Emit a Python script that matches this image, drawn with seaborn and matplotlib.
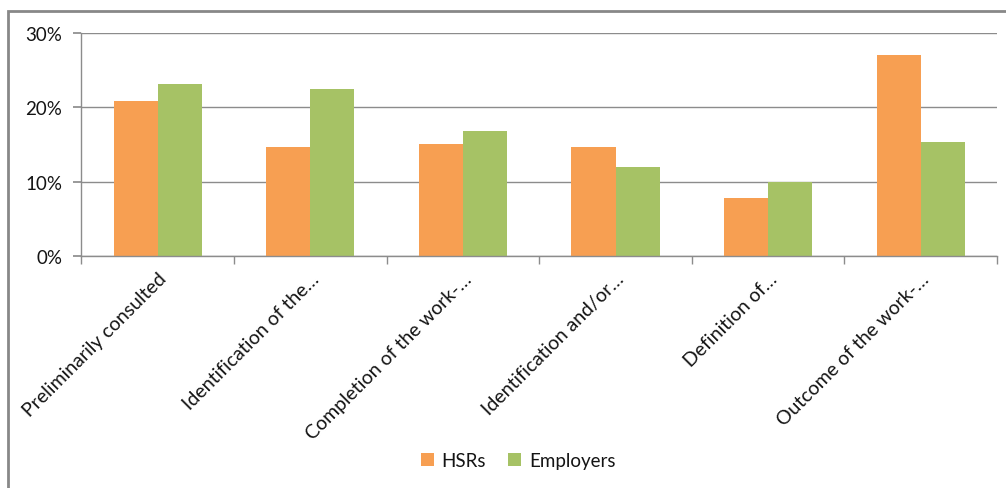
import matplotlib
matplotlib.use("Agg")
import matplotlib.pyplot as plt
import seaborn as sns
import pandas as pd
from matplotlib.patches import Rectangle, Patch
from matplotlib.ticker import FuncFormatter, FixedLocator

categories = ["Preliminarily consulted", "Identification of the…", "Completion of the work-…",
              "Identification and/or…", "Definition of…", "Outcome of the work-…"]
series = ["HSRs", "Employers"]
hsrs = [20.8, 14.6, 15.0, 14.6, 7.8, 27.1]
employers = [23.2, 22.5, 16.8, 12.0, 10.0, 15.4]
y_ticks = [0, 10, 20, 30]
colors = ["#F79F52", "#A6C265"]

df = pd.DataFrame({
    "category": categories * 2,
    "series": [series[0]] * len(categories) + [series[1]] * len(categories),
    "value": hsrs + employers,
})

sns.set_theme(style="white")
plt.rcParams["font.family"] = ["Lato", "DejaVu Sans"]

fig = plt.figure(figsize=(10.06, 4.89), dpi=100)
ax = fig.add_axes([0.081, 0.475, 0.910, 0.455])

sns.barplot(data=df, x="category", y="value", hue="series", palette=colors, saturation=1,
            width=0.577, linewidth=0, ax=ax, legend=False, errorbar=None)

grid_c = "#8c8c8c"
txt_c = "#141414"
ax.set_ylim(0, 30)
ax.set_xlim(-0.5, len(categories) - 0.5)
ax.yaxis.set_major_locator(FixedLocator(y_ticks))
ax.yaxis.set_major_formatter(FuncFormatter(lambda v, p: f"{int(v)}%"))
ax.grid(axis="y", color=grid_c, linewidth=1)
ax.set_axisbelow(True)
for s in ["top", "right"]:
    ax.spines[s].set_visible(False)
for s in ["left", "bottom"]:
    ax.spines[s].set_color(grid_c)
    ax.spines[s].set_linewidth(1)
ax.set_xlabel("")
ax.set_ylabel("")
ax.tick_params(axis="y", which="major", left=True, length=6, color=grid_c, labelsize=13.5,
               labelcolor=txt_c, pad=8)
ax.set_xticks(range(len(categories)))
ax.set_xticklabels(categories, rotation=45, ha="right", rotation_mode="anchor",
                   fontsize=14, color=txt_c)
ax.tick_params(axis="x", which="major", length=0, pad=10)
ax.set_xticks([i - 0.5 for i in range(len(categories) + 1)], minor=True)
ax.tick_params(axis="x", which="minor", bottom=True, length=6, color=grid_c)

handles = [Patch(facecolor=c, edgecolor="none") for c in colors]
fig.legend(handles, series, loc="center", bbox_to_anchor=(0.515, 0.057), ncol=2,
           frameon=False, fontsize=13.5, handlelength=0.7, handleheight=0.7,
           handletextpad=0.4, columnspacing=1.2, labelcolor=txt_c)

fig.patches.append(Rectangle((8 / 1006, -0.1), 1.2, 1 - 12 / 489 + 0.1, transform=fig.transFigure,
                             fill=False, edgecolor="#888888", linewidth=2, zorder=0))

fig.savefig("out.png", dpi=100)
